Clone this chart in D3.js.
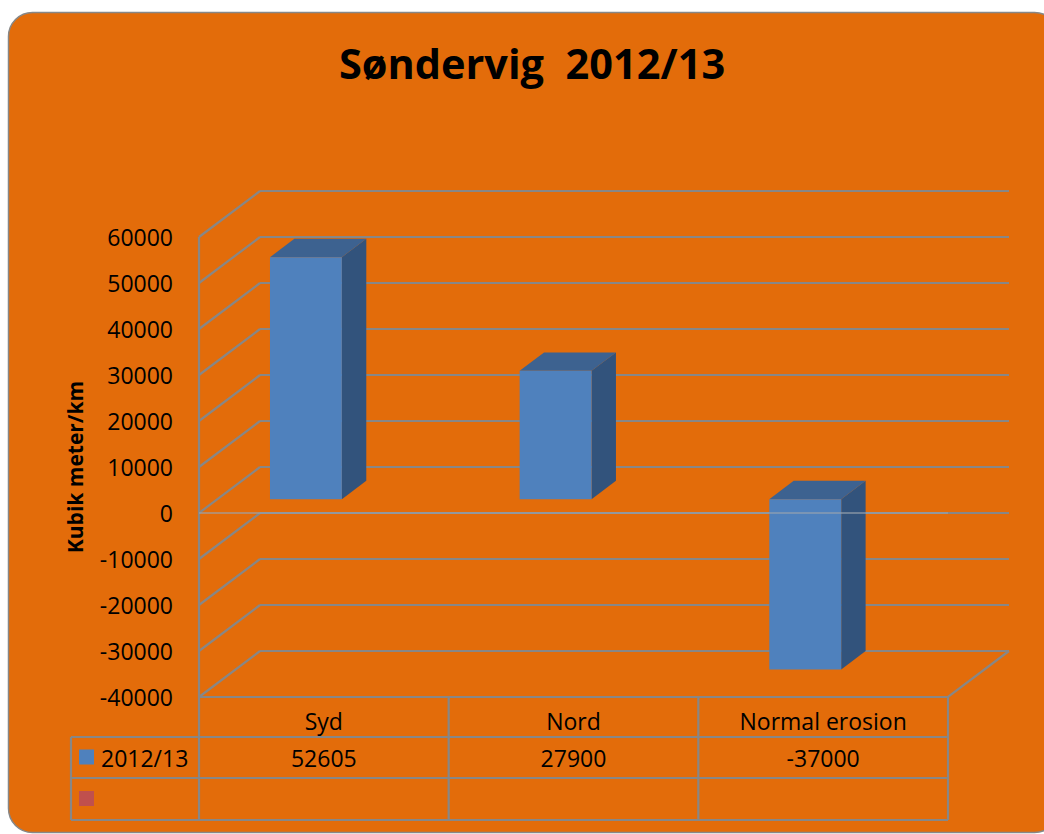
<!DOCTYPE html>
<html>
<head>
<meta charset="utf-8">
<script src="https://cdn.jsdelivr.net/npm/d3@7"></script>
<style>
  body { margin: 0; background: #fff; }
  text { font-family: "Open Sans", sans-serif; fill: #000; }
</style>
</head>
<body>
<div id="chart"></div>
<script>
var categories = ["Syd", "Nord", "Normal erosion"];
var seriesNames = ["2012/13", ""];
var values = [52605, 27900, -37000];
var tickValues = [60000, 50000, 40000, 30000, 20000, 10000, 0, -10000, -20000, -30000, -40000];
var tableValues = ["52605", "27900", "-37000"];

var W = 1044, H = 834;
var orange = "#E36C0A", grid = "#878787";
var DX = 61, DY = -46; // full depth of the 3d box

var svg = d3.select("#chart").append("svg")
    .attr("width", W)
    .attr("height", H);

// chart area
svg.append("rect")
    .attr("x", 8.5).attr("y", 12.5)
    .attr("width", 1050).attr("height", 820)
    .attr("rx", 24)
    .attr("fill", orange)
    .attr("stroke", grid)
    .attr("stroke-width", 1.5);

svg.append("text")
    .attr("x", 532).attr("y", 79)
    .attr("text-anchor", "middle")
    .style("font-size", "41.5px")
    .style("font-weight", "bold")
    .style("white-space", "pre")
    .text("Søndervig  2012/13");

var y = d3.scaleLinear().domain([-40000, 60000]).range([697, 237]);
var x = d3.scaleBand().domain(categories).range([199, 948]);
var bw = x.bandwidth();

var g = svg.append("g");

// back wall gridlines + side wall diagonals
tickValues.forEach(function(v) {
    g.append("line")
        .attr("x1", 199).attr("y1", y(v))
        .attr("x2", 199 + DX).attr("y2", y(v) + DY)
        .attr("stroke", grid).attr("stroke-width", 2.2);
    g.append("line")
        .attr("x1", 199 + DX).attr("y1", y(v) + DY)
        .attr("x2", 948 + DX).attr("y2", y(v) + DY)
        .attr("stroke", grid).attr("stroke-width", 2.2);
});
// left axis
g.append("line")
    .attr("x1", 199).attr("y1", y(60000))
    .attr("x2", 199).attr("y2", y(-40000))
    .attr("stroke", grid).attr("stroke-width", 2.2);
// floor front + right edge
g.append("path")
    .attr("d", "M199," + y(-40000) + "L948," + y(-40000) + "L" + (948 + DX) + "," + (y(-40000) + DY))
    .attr("fill", "none")
    .attr("stroke", grid).attr("stroke-width", 2.2);

// y tick labels
g.selectAll(".tick")
    .data(tickValues)
    .enter().append("text")
    .attr("x", 173)
    .attr("y", function(d) { return y(d); })
    .attr("text-anchor", "end")
    .attr("dominant-baseline", "central")
    .style("font-size", "23px")
    .text(function(d) { return d; });

svg.append("text")
    .attr("transform", "translate(75,467) rotate(-90)")
    .attr("text-anchor", "middle")
    .attr("dominant-baseline", "central")
    .style("font-size", "21px")
    .style("font-weight", "bold")
    .text("Kubik meter/km");

// bars
var d0 = 0.3, d1 = 0.7;
function pt(px, v, d) { return [px + d * DX, y(v) + d * DY]; }
function poly(pts) { return "M" + pts.map(function(p) { return p.join(","); }).join("L") + "Z"; }

categories.forEach(function(c, i) {
    var v = values[i];
    var xl = x(c) + 0.211 * bw, xr = xl + 0.288 * bw;
    var top = Math.max(v, 0), bot = Math.min(v, 0);
    // side
    g.append("path")
        .attr("d", poly([pt(xr, top, d0), pt(xr, top, d1), pt(xr, bot, d1), pt(xr, bot, d0)]))
        .attr("fill", "#32537C");
    // top
    g.append("path")
        .attr("d", poly([pt(xl, top, d0), pt(xl, top, d1), pt(xr, top, d1), pt(xr, top, d0)]))
        .attr("fill", "#3D6290");
    // front
    g.append("path")
        .attr("d", poly([pt(xl, top, d0), pt(xr, top, d0), pt(xr, bot, d0), pt(xl, bot, d0)]))
        .attr("fill", "#4F81BD");
});

// zero line in front
g.append("line")
    .attr("x1", 199).attr("y1", y(0))
    .attr("x2", 948).attr("y2", y(0))
    .attr("stroke", "#9aa3ad").attr("stroke-opacity", 0.6).attr("stroke-width", 2);

// data table
var rowY = [697, 737, 778, 820];
var colX = [71, 199, x("Nord"), x("Normal erosion"), 948];
var t = svg.append("g");
rowY.slice(1).forEach(function(ry) {
    t.append("line").attr("x1", 71).attr("x2", 948).attr("y1", ry).attr("y2", ry)
        .attr("stroke", grid).attr("stroke-width", 2.2);
});
colX.forEach(function(cx, i) {
    t.append("line").attr("x1", cx).attr("x2", cx)
        .attr("y1", i == 0 ? 737 : 697).attr("y2", 820)
        .attr("stroke", grid).attr("stroke-width", 2.2);
});
categories.forEach(function(c, i) {
    t.append("text")
        .attr("x", x(c) + bw / 2).attr("y", 721)
        .attr("text-anchor", "middle").attr("dominant-baseline", "central")
        .style("font-size", "23px").text(c);
    t.append("text")
        .attr("x", x(c) + bw / 2).attr("y", 758)
        .attr("text-anchor", "middle").attr("dominant-baseline", "central")
        .style("font-size", "23px").text(tableValues[i]);
});
var keyColors = ["#4F81BD", "#C0504D"];
seriesNames.forEach(function(s, i) {
    var cy = (rowY[i + 1] + rowY[i + 2]) / 2;
    t.append("rect").attr("x", 79).attr("y", cy - 8).attr("width", 15).attr("height", 15)
        .attr("fill", keyColors[i]);
    t.append("text").attr("x", 101).attr("y", cy)
        .attr("dominant-baseline", "central")
        .style("font-size", "23px").text(s);
});
</script>
</body>
</html>
